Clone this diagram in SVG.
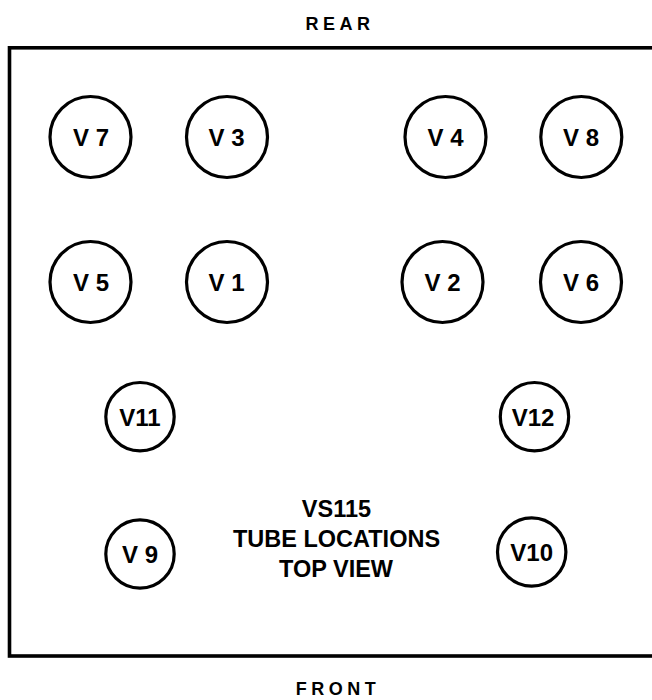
<svg xmlns="http://www.w3.org/2000/svg" width="652" height="700" viewBox="0 0 652 700">
<style>
.tube{fill:none;stroke:#000;stroke-width:3.2}
.lbl{font-family:"Liberation Sans",Arial,sans-serif;font-weight:bold;font-size:24px;fill:#000;text-anchor:middle}
.side{font-family:"Liberation Sans",Arial,sans-serif;font-weight:bold;font-size:18px;letter-spacing:4.5px;fill:#000;text-anchor:middle}
.title{font-family:"Liberation Sans",Arial,sans-serif;font-weight:bold;font-size:23.5px;fill:#000;text-anchor:middle}
</style>
<rect width="652" height="700" fill="#fff"/>
<text class="side" x="340" y="30">REAR</text>
<text class="side" x="338" y="695">FRONT</text>
<g id="chassis">
<rect x="9.5" y="47.8" width="660" height="608.2" fill="none" stroke="#000" stroke-width="3.6"/>
</g>
<g id="connectors"></g>
<g id="V7"><circle class="tube" cx="90.5" cy="137" r="40.5"/><text class="lbl" x="91" y="145.8">V 7</text></g>
<g id="V3"><circle class="tube" cx="227" cy="137" r="40.5"/><text class="lbl" x="226.5" y="145.8">V 3</text></g>
<g id="V4"><circle class="tube" cx="445.5" cy="137" r="40.5"/><text class="lbl" x="445.5" y="145.8">V 4</text></g>
<g id="V8"><circle class="tube" cx="581.3" cy="137" r="40.5"/><text class="lbl" x="581" y="145.8">V 8</text></g>
<g id="V5"><circle class="tube" cx="90.5" cy="282" r="40.5"/><text class="lbl" x="91" y="290.8">V 5</text></g>
<g id="V1"><circle class="tube" cx="227" cy="282" r="40.5"/><text class="lbl" x="226.5" y="290.8">V 1</text></g>
<g id="V2"><circle class="tube" cx="442.5" cy="282" r="40.5"/><text class="lbl" x="442.5" y="290.8">V 2</text></g>
<g id="V6"><circle class="tube" cx="581" cy="282" r="40.5"/><text class="lbl" x="581" y="290.8">V 6</text></g>
<g id="V11"><circle class="tube" cx="140" cy="416.7" r="34.2"/><text class="lbl" x="140" y="425.5">V11</text></g>
<g id="V12"><circle class="tube" cx="534.5" cy="416.7" r="34.2"/><text class="lbl" x="533" y="425.5">V12</text></g>
<g id="V9"><circle class="tube" cx="140" cy="554" r="34.2"/><text class="lbl" x="140" y="562.8">V 9</text></g>
<g id="V10"><circle class="tube" cx="531.7" cy="552" r="34.2"/><text class="lbl" x="531.7" y="560.8">V10</text></g>
<g id="title">
<text class="title" x="336.5" y="517">VS115</text>
<text class="title" x="336.5" y="547">TUBE LOCATIONS</text>
<text class="title" x="336" y="576.5">TOP VIEW</text>
</g>
</svg>
